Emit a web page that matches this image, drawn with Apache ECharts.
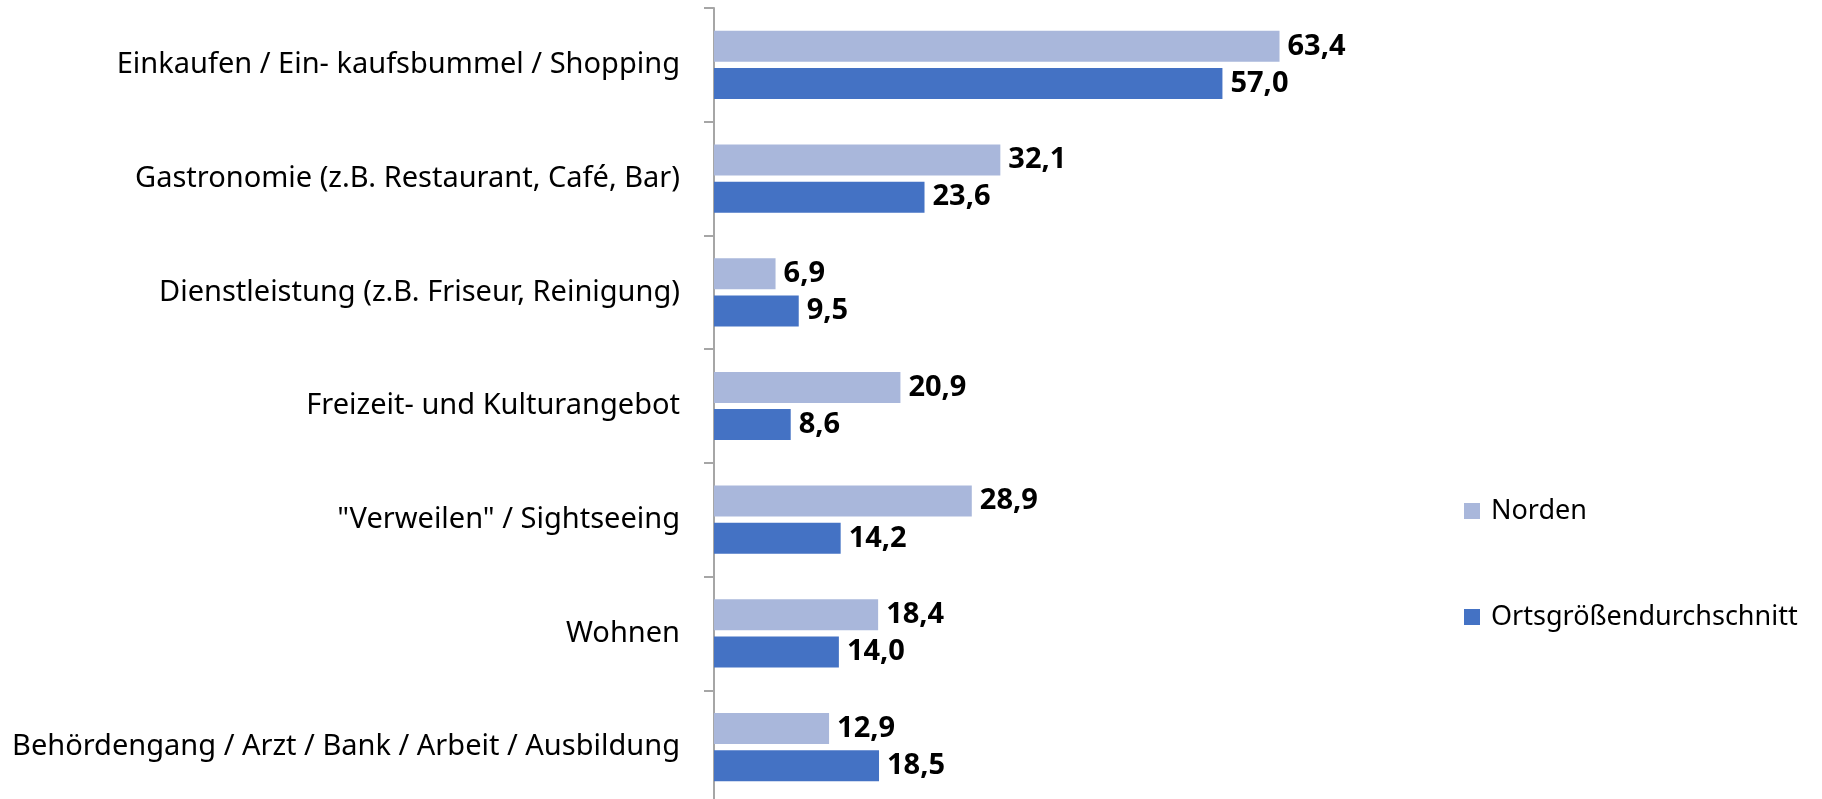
<!DOCTYPE html>
<html>
<head>
<meta charset="utf-8">
<script src="https://cdn.jsdelivr.net/npm/echarts@6/dist/echarts.min.js"></script>
<style>
  html, body { margin: 0; padding: 0; background: #fff; }
  #chart { width: 1822px; height: 799px; }
</style>
</head>
<body>
<div id="chart"></div>
<script>
const categories = [
  'Einkaufen / Ein- kaufsbummel / Shopping',
  'Gastronomie (z.B. Restaurant, Café, Bar)',
  'Dienstleistung (z.B. Friseur, Reinigung)',
  'Freizeit- und Kulturangebot',
  '"Verweilen" / Sightseeing',
  'Wohnen',
  'Behördengang / Arzt / Bank / Arbeit / Ausbildung'
]
const norden = [63.4, 32.1, 6.9, 20.9, 28.9, 18.4, 12.9]
const ortsgroesse = [57.0, 23.6, 9.5, 8.6, 14.2, 14.0, 18.5]
const seriesNames = ['Norden', 'Ortsgrößendurchschnitt']

const font = '"Noto Sans", sans-serif'
const fmt = p => p.value.toFixed(1).replace('.', ',')

const labelStyle = {
  show: true,
  position: 'right',
  distance: 8,
  formatter: fmt,
  color: '#000',
  fontWeight: 'bold',
  fontSize: 29,
  fontFamily: font
}

const chart = echarts.init(document.getElementById('chart'))
chart.setOption({
  animation: false,
  textStyle: { fontFamily: font },
  grid: { left: 714, top: 8, width: 892, height: 796, outerBoundsMode: 'none' },
  legend: {
    orient: 'vertical',
    left: 1459,
    top: 490,
    icon: 'rect',
    itemWidth: 16,
    itemHeight: 16,
    itemGap: 74,
    textStyle: { fontSize: 27, color: '#000', fontFamily: font, lineHeight: 32, padding: [0, 0, 0, 6] },
    data: seriesNames
  },
  xAxis: {
    type: 'value',
    min: 0,
    max: 100,
    show: false
  },
  yAxis: {
    type: 'category',
    inverse: true,
    data: categories,
    axisLine: { show: true, lineStyle: { color: '#A6A6A6', width: 2 } },
    axisTick: { show: true, length: 10, lineStyle: { color: '#A6A6A6', width: 2 } },
    axisLabel: { margin: 34, fontSize: 29, color: '#000', fontFamily: font }
  },
  series: [
    {
      name: seriesNames[0],
      type: 'bar',
      data: norden,
      barWidth: 31,
      barGap: '20%',
      itemStyle: { color: '#A9B7DB' },
      label: labelStyle
    },
    {
      name: seriesNames[1],
      type: 'bar',
      data: ortsgroesse,
      barWidth: 31,
      barGap: '20%',
      itemStyle: { color: '#4472C4' },
      label: labelStyle
    }
  ]
})
</script>
</body>
</html>
